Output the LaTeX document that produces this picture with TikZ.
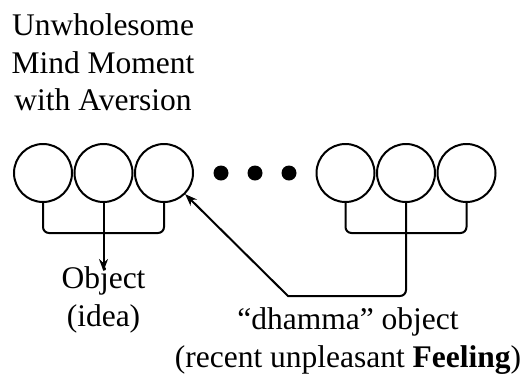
\documentclass[tikz,border=0pt]{standalone}
\usepackage{fontspec}
\setmainfont{Liberation Serif}
\usetikzlibrary{arrows.meta}
\begin{document}
\begin{tikzpicture}[x=1pt,y=-1pt,
  every path/.style={line width=2pt},
  mm/.style={circle,draw,line width=2pt,minimum size=58pt,inner sep=0pt},
  dot/.style={circle,fill,minimum size=15pt,inner sep=0pt},
  lbl/.style={font=\fontsize{31.5}{37.5}\selectfont,align=center,inner sep=0pt,anchor=north},
  link/.style={line width=2pt},
  arr/.style={link,-{Stealth[length=12pt,width=9pt]}}]
\useasboundingbox (0,0) rectangle (523,376);
\node[lbl] (title) at (103,13) {Unwholesome\\Mind Moment\\with Aversion};
\node[mm] (c1) at (43,173) {};
\node[mm] (c2) at (103.5,173) {};
\node[mm] (c3) at (164,173) {};
\node[dot] (d1) at (221,173) {};
\node[dot] (d2) at (255,173) {};
\node[dot] (d3) at (289,173) {};
\node[mm] (c4) at (345.5,173) {};
\node[mm] (c5) at (406,173) {};
\node[mm] (c6) at (466.5,173) {};
\node[lbl] (obj) at (103.5,266) {Object\\(idea)};
\node[lbl] (dh) at (348,307) {“dhamma” object\\(recent unpleasant \textbf{Feeling})};
\coordinate (lb) at (0,233);
\coordinate (rt) at (288,296);
\draw[link,rounded corners=6pt] (c1.south) -- (c1.south |- lb) -- (c3.south |- lb) -- (c3.south);
\draw[link,rounded corners=6pt] (c4.south) -- (c4.south |- lb) -- (c6.south |- lb) -- (c6.south);
\draw[arr] (c2.south) -- ([yshift=-5pt]obj.north);
\draw[arr] (c5.south) [rounded corners=6pt] -- (c5.south |- rt) [sharp corners] -- (rt) -- (c3.-45);
\end{tikzpicture}
\end{document}
